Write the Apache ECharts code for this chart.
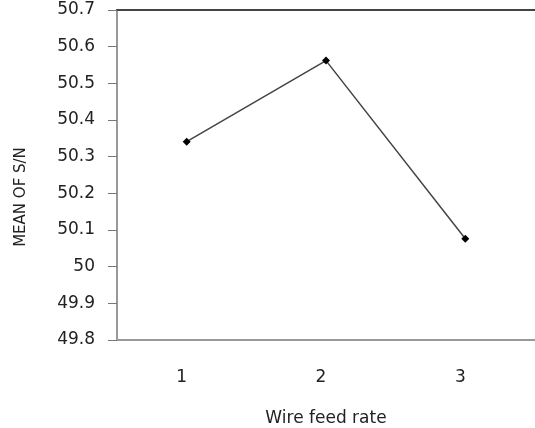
<!DOCTYPE html>
<html><head><meta charset="utf-8">
<script src="https://cdn.jsdelivr.net/npm/echarts@6/dist/echarts.min.js"></script>
<style>html,body{margin:0;padding:0;background:#fff}#c{width:535px;height:428px}</style>
</head><body><div id="c"></div>
<script>
var categories = ['1', '2', '3'];
var meanSN = [50.341, 50.562, 50.076];
var yMin = 49.8, yMax = 50.7, yStep = 0.1;
var xTitle = 'Wire feed rate';
var yTitle = 'MEAN OF S/N';

var chart = echarts.init(document.getElementById('c'), null, {renderer: 'canvas'});
chart.setOption({
  animation: false,
  backgroundColor: '#ffffff',
  grid: {left: 117, right: 0, top: 10, bottom: 88, outerBoundsMode: 'none', containLabel: false},
  graphic: [{
    type: 'text', x: 21, y: 197, rotation: Math.PI / 2,
    style: {text: yTitle, fontFamily: 'DejaVu Sans', fontSize: 15, fill: '#222',
      textAlign: 'center', textVerticalAlign: 'middle'}
  }],
  xAxis: [{
    type: 'category', data: categories, boundaryGap: true,
    name: xTitle, nameLocation: 'middle', nameGap: 70,
    nameTextStyle: {fontFamily: 'DejaVu Sans', fontSize: 17, color: '#222'},
    axisLine: {lineStyle: {color: '#999', width: 2}},
    axisTick: {show: false},
    axisLabel: {fontFamily: 'DejaVu Sans', fontSize: 17, color: '#222', margin: 29, padding: [0, 10, 0, 0]},
    splitLine: {show: false}
  }, {
    type: 'category', data: categories, position: 'top', boundaryGap: true,
    axisLine: {lineStyle: {color: '#444', width: 2}},
    axisTick: {show: false}, axisLabel: {show: false}
  }],
  yAxis: {
    type: 'value', min: yMin, max: yMax, interval: yStep,
    axisLine: {show: true, lineStyle: {color: '#999', width: 2}},
    axisTick: {show: true, length: 9, lineStyle: {color: '#777', width: 1}},
    axisLabel: {fontFamily: 'DejaVu Sans', fontSize: 17, color: '#222', margin: 22,
      formatter: function (v) { return String(Math.round(v * 10) / 10); }},
    splitLine: {show: false}
  },
  series: [{
    type: 'line', data: meanSN, xAxisIndex: 0,
    symbol: 'diamond', symbolSize: 8,
    itemStyle: {color: '#000'},
    lineStyle: {color: '#444', width: 1.5}
  }]
});
</script></body></html>
